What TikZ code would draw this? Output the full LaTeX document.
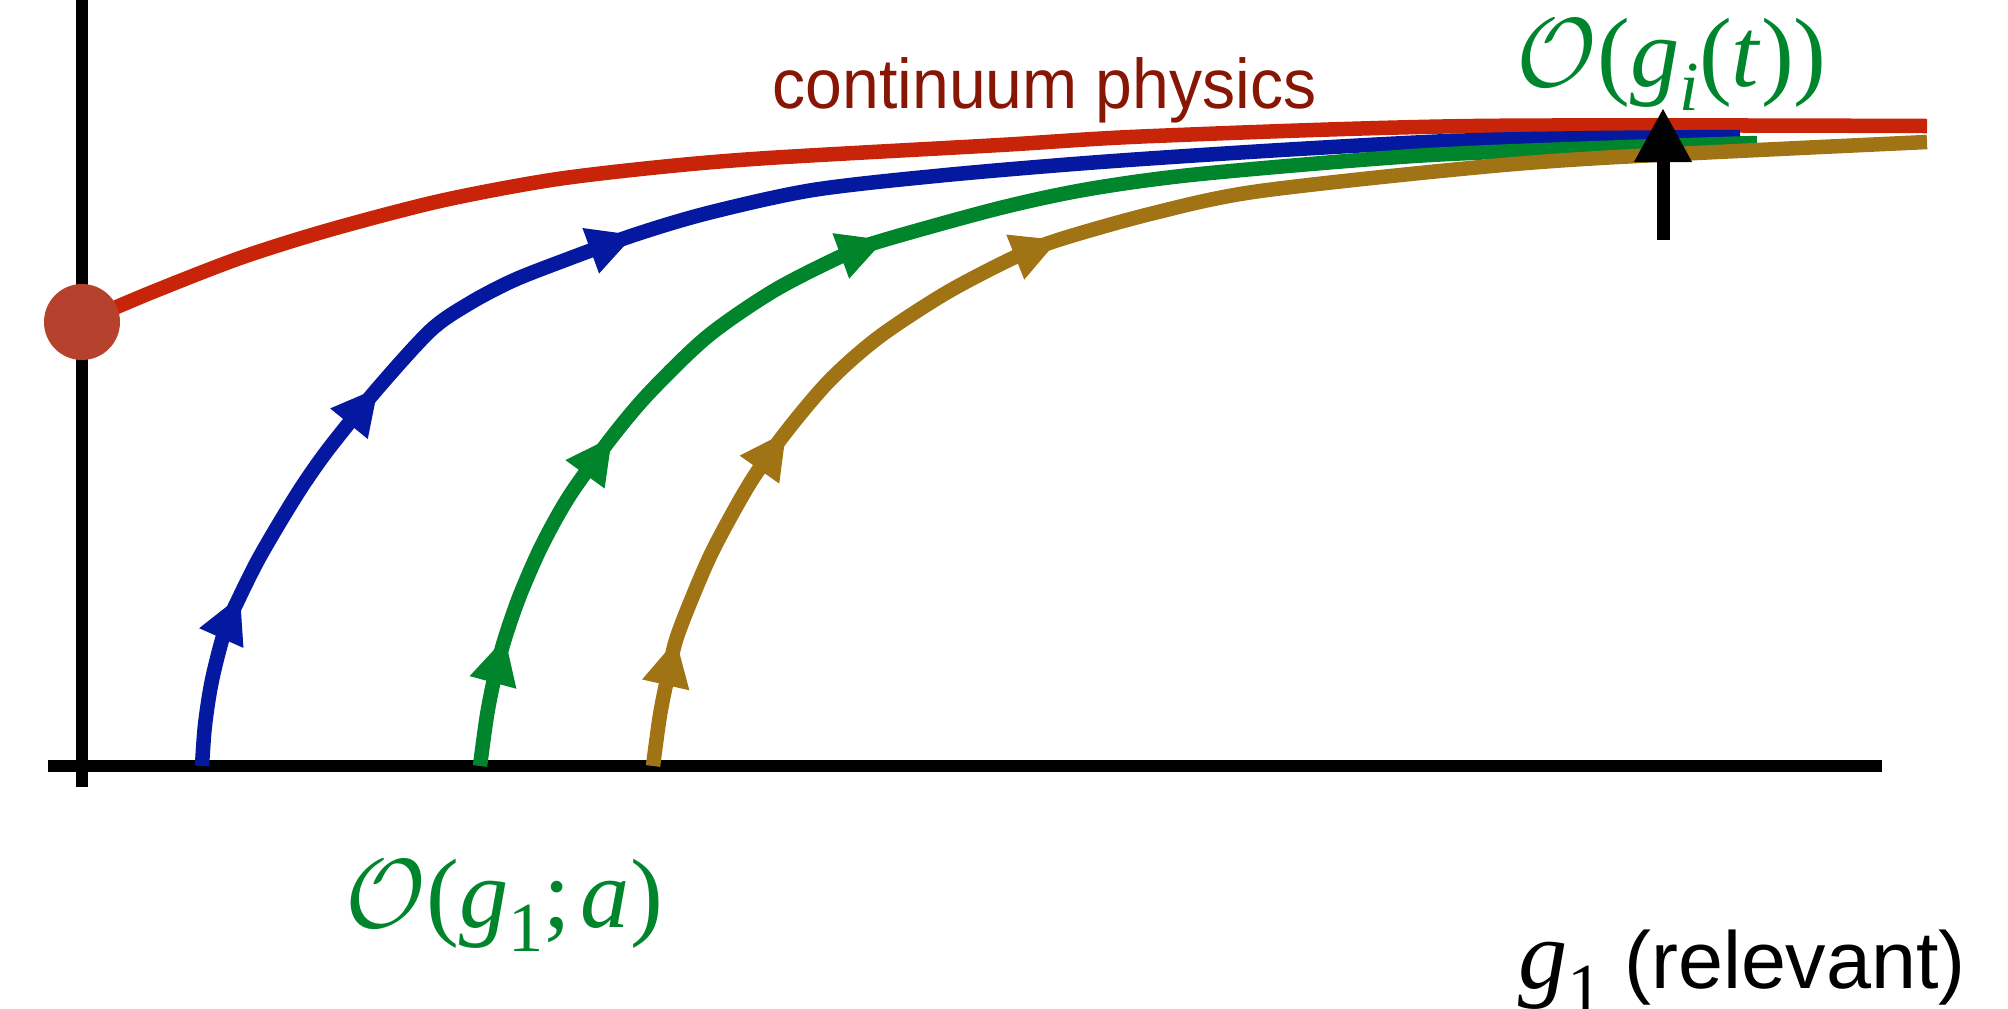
\documentclass[tikz,border=0pt]{standalone}
\usepackage{fontspec}
\usepackage{graphicx}
\setmainfont{Liberation Serif}
\setsansfont{Liberation Sans}
\usetikzlibrary{arrows.meta}
\definecolor{redc}{RGB}{200,36,10}
\definecolor{bluec}{RGB}{5,25,160}
\definecolor{greenc}{RGB}{0,133,45}
\definecolor{goldc}{RGB}{160,115,20}
\definecolor{dotc}{RGB}{182,66,46}
\definecolor{physc}{RGB}{135,22,5}
\newcommand{\calO}{\scalebox{1.12}{$\mathcal{O}$}}
\begin{document}
\begin{tikzpicture}[x=0.01cm,y=-0.01cm,
  axisline/.style={line width=0.118cm, black, line cap=butt},
  flowline/.style={line width=0.145cm, line cap=butt, line join=round},
  flowtip/.style={line width=0.5pt, -{Triangle[length=0.46cm,width=0.48cm]}},
  lbl/.style={inner sep=0pt, anchor=base west}]
\useasboundingbox (0,0) rectangle (2008,1008);
% axes
\draw[axisline] (82,0) -- (82,787);
\draw[axisline] (48,766) -- (1882,766);
% curves
\draw[flowline, redc] plot[smooth, tension=0.5] coordinates {(82,322) (150,293) (240,258) (329,230) (440,201) (551,180) (660,167) (768,158) (1000,145) (1153,136) (1473,126) (1927,126)};
\draw[flowline, bluec] plot[smooth, tension=0.5] coordinates {(202,766) (205,725) (212,680) (225,630) (240,596) (258,560) (280,522) (303,485) (330,447) (378,388) (431,330) (470,303) (512,281) (560,262) (634,235) (708,213) (813,190) (946,175) (1100,162) (1281,150) (1450,141) (1600,138) (1740,137)};
\draw[flowline, greenc] plot[smooth, tension=0.5] coordinates {(480,766) (487,715) (495,675) (505,638) (520,595) (542,545) (570,495) (612,437) (650,392) (708,336) (775,290) (846,254) (884,240) (1000,208) (1089,189) (1200,174) (1414,156) (1600,148) (1757,143)};
\draw[flowline, goldc] plot[smooth, tension=0.5] coordinates {(653,766) (660,715) (668,675) (676,640) (692,598) (714,548) (750,483) (786,432) (830,380) (879,337) (946,293) (1013,258) (1058,240) (1150,214) (1253,192) (1450,170) (1600,158) (1927,142)};
% arrowheads on curves
\draw[flowtip, bluec] (240,596) ++(-20,45) -- (240,596);
\draw[flowtip, bluec] (378,388) ++(-48,59) -- (378,388);
\draw[flowtip, bluec] (634,235) ++(-74,27) -- (634,235);
\draw[flowtip, greenc] (505,638) ++(-10,37) -- (505,638);
\draw[flowtip, greenc] (612,437) ++(-42,58) -- (612,437);
\draw[flowtip, greenc] (884,240) ++(-38,14) -- (884,240);
\draw[flowtip, goldc] (676,640) ++(-8,35) -- (676,640);
\draw[flowtip, goldc] (786,432) ++(-36,51) -- (786,432);
\draw[flowtip, goldc] (1058,240) ++(-45,18) -- (1058,240);
% fixed point
\fill[dotc] (82,322) circle[radius=38];
% black arrow
\draw[line width=0.13cm, line cap=butt, -{Triangle[length=0.54cm,width=0.54cm]}] (1663,240) -- (1663,108);
% labels
\node[lbl, text=physc] (cp) at (772,108) {\sffamily\fontsize{20}{24}\selectfont\scalebox{0.94}[1]{continuum physics}};
\node[lbl, text=greenc] (Ot) at (1516,86) {\fontsize{28}{32}\selectfont\calO(\textit{g}\raisebox{-7pt}{\fontsize{20}{20}\selectfont\textit{i}}(\textit{t}))};
\node[lbl, text=greenc] (Oa) at (345,927) {\fontsize{28}{32}\selectfont\calO(\textit{g}\raisebox{-7pt}{\fontsize{20}{20}\selectfont 1};\hspace{0.1em}\textit{a})};
\node[lbl, text=black] (gr) at (1518,988) {\fontsize{28}{32}\selectfont\textit{g}\raisebox{-7pt}{\fontsize{20}{20}\selectfont 1}\hspace{6pt}{\sffamily\fontsize{23}{26}\selectfont(relevant)}};
\end{tikzpicture}
\end{document}
